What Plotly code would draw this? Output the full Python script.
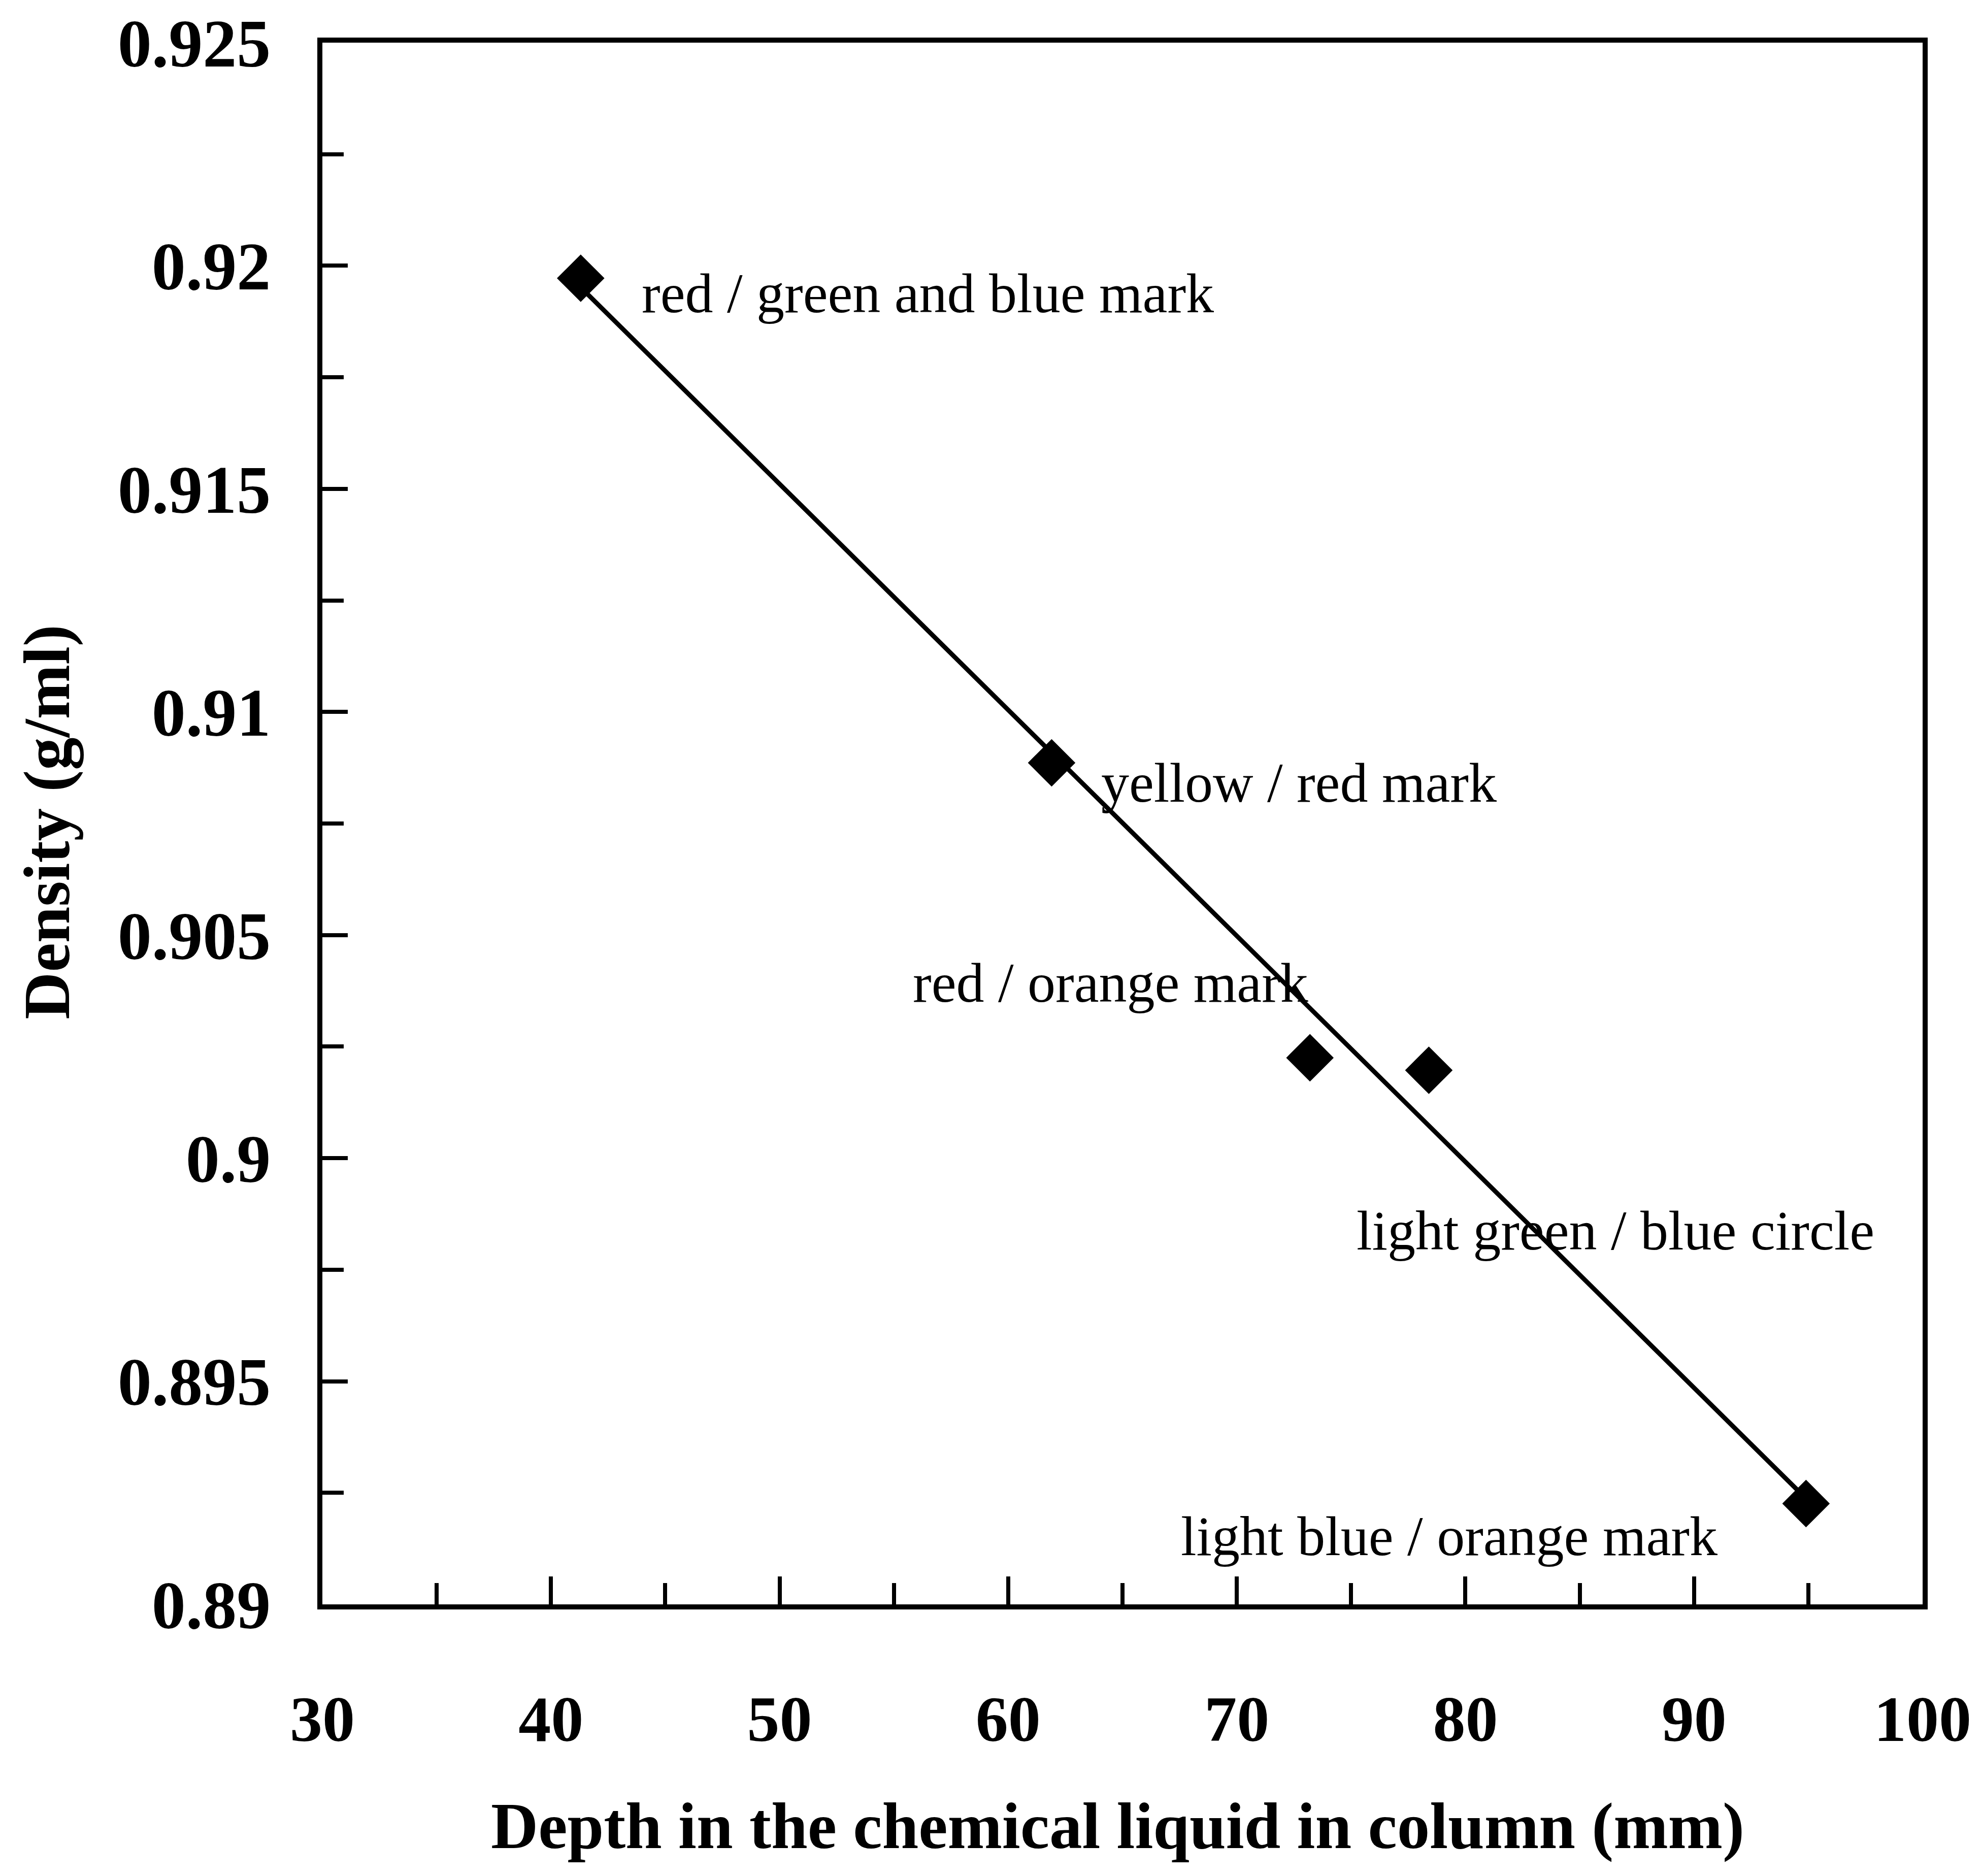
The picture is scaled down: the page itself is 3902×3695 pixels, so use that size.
import numpy as np
import plotly.graph_objects as go

# ---- data ----
depth_mm = [41.3, 61.9, 73.2, 78.4, 94.9]
density = [0.91972, 0.90886, 0.90225, 0.90197, 0.89226]
labels = [
    "red / green and blue mark",
    "yellow / red mark",
    "red / orange mark",
    "light green / blue circle",
    "light blue / orange mark",
]
x_ticks = [30, 40, 50, 60, 70, 80, 90, 100]
x_tick_text = ["30", "40", "50", "60", "70", "80", "90", "100"]
y_ticks = [0.89, 0.895, 0.9, 0.905, 0.91, 0.915, 0.92, 0.925]
y_tick_text = ["0.89", "0.895", "0.9", "0.905", "0.91", "0.915", "0.92", "0.925"]

# linear fit line through the points
slope, intercept = np.polyfit(depth_mm, density, 1)
fit_x = [min(depth_mm), max(depth_mm)]
fit_y = [slope * v + intercept for v in fit_x]

W, H = 3902, 3695
FONT = "Liberation Serif"

fig = go.Figure()
fig.add_trace(go.Scatter(x=fit_x, y=fit_y, mode="lines",
                         line=dict(color="black", width=9), showlegend=False))
fig.add_trace(go.Scatter(x=depth_mm, y=density, mode="markers",
                         marker=dict(symbol="diamond", size=72, color="black",
                                     line=dict(width=0)),
                         showlegend=False))

# label positions (layout)
label_pos = [(43.92, 0.91938), (64.02, 0.90841), (55.78, 0.90393),
             (75.2, 0.89837), (67.5, 0.89152)]
for t, (lx, ly) in zip(labels, label_pos):
    fig.add_annotation(x=lx, y=ly, xref="x", yref="y", text=t, showarrow=False,
                       xanchor="left", yanchor="middle",
                       font=dict(family=FONT, size=110, color="black"))

fig.add_annotation(x=0.497, y=-0.142, xref="paper", yref="paper",
                   text="<b>Depth in the chemical liquid in column (mm)</b>",
                   showarrow=False, xanchor="center", yanchor="middle",
                   font=dict(family=FONT, size=129, color="black"))
fig.add_annotation(x=-0.172, y=0.501, xref="paper", yref="paper",
                   text="<b>Density (g/ml)</b>", textangle=-90,
                   showarrow=False, xanchor="center", yanchor="middle",
                   font=dict(family=FONT, size=129, color="black"))

fig.update_layout(
    width=W, height=H,
    margin=dict(l=635, r=115, t=82, b=535),
    paper_bgcolor="white", plot_bgcolor="white",
    xaxis=dict(range=[30, 100], tickvals=x_ticks,
               ticktext=["<b>%s</b>" % s for s in x_tick_text],
               showgrid=False, zeroline=False,
               showline=True, linecolor="black", linewidth=10, mirror=True,
               ticks="inside", ticklen=55, tickwidth=8, tickcolor="black",
               minor=dict(dtick=5, ticks="inside", ticklen=42, tickwidth=8,
                          tickcolor="black", showgrid=False),
               tickfont=dict(family=FONT, size=128, color="black"),
               ticklabelstandoff=105),
    yaxis=dict(range=[0.89, 0.925], tickvals=y_ticks,
               ticktext=["<b>%s</b>" % s for s in y_tick_text],
               showgrid=False, zeroline=False,
               showline=True, linecolor="black", linewidth=10, mirror=True,
               ticks="inside", ticklen=50, tickwidth=8, tickcolor="black",
               minor=dict(dtick=0.0025, ticks="inside", ticklen=42, tickwidth=8,
                          tickcolor="black", showgrid=False),
               tickfont=dict(family=FONT, size=134, color="black"),
               ticklabelstandoff=65),
)

fig.write_html("out.html")
